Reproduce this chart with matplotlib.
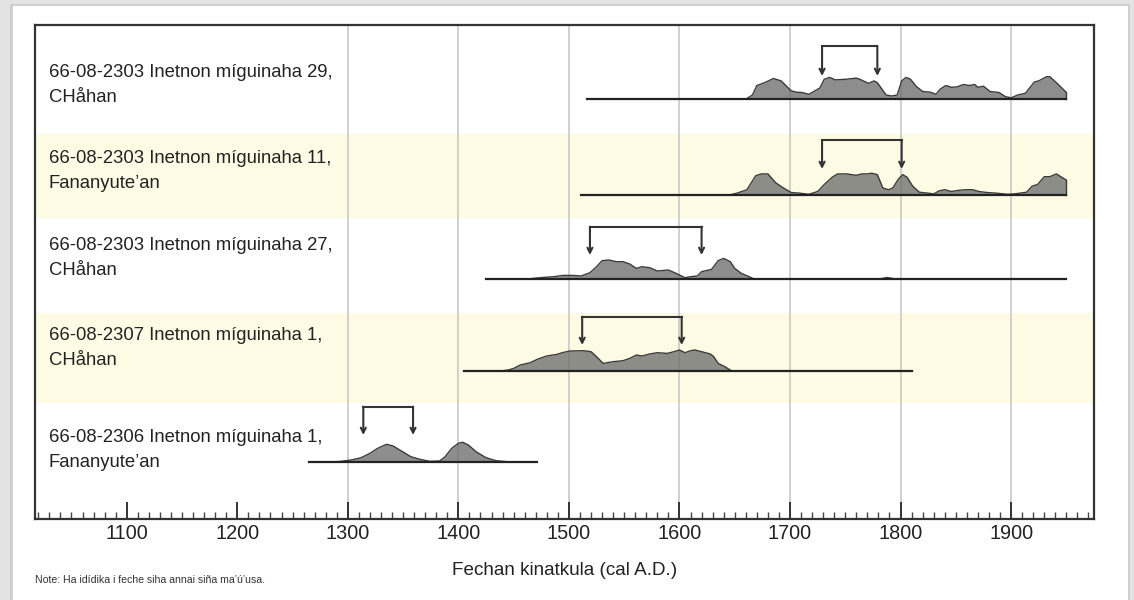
import numpy as np
import matplotlib
matplotlib.use("Agg")
import matplotlib.pyplot as plt
from matplotlib.patches import Rectangle
from matplotlib.ticker import MultipleLocator

plt.rcParams['font.family'] = ['Liberation Sans', 'DejaVu Sans']

# ---- data ----
labels = [
    "66-08-2303 Inetnon míguinaha 29,\nCHåhan",
    "66-08-2303 Inetnon míguinaha 11,\nFananyute’an",
    "66-08-2303 Inetnon míguinaha 27,\nCHåhan",
    "66-08-2307 Inetnon míguinaha 1,\nCHåhan",
    "66-08-2306 Inetnon míguinaha 1,\nFananyute’an",
]
# calibration curve span drawn for each sample (cal A.D.)
span_start = [1516, 1511, 1425, 1405, 1265]
span_end = [1950, 1950, 1950, 1810, 1471]
# bracketed date ranges
range_lo = [1729, 1729, 1519, 1512, 1314]
range_hi = [1779, 1801, 1620, 1602, 1359]

# probability distributions (year, relative height)
yrs1 = [1661, 1666, 1670, 1677, 1685, 1692, 1701, 1706, 1711, 1717, 1727, 1731, 1736,
        1741, 1751, 1760, 1763, 1771, 1776, 1779, 1787, 1792, 1797, 1801, 1805, 1809,
        1814, 1820, 1827, 1832, 1836, 1841, 1846, 1851, 1857, 1862, 1867, 1870, 1875,
        1881, 1889, 1895, 1900, 1906, 1913, 1921, 1925, 1932, 1935, 1941, 1950]
prob1 = [0, 3.5, 13, 15.8, 20, 17.6, 7.7, 6.3, 6, 4.2, 10.5, 19.3, 21.1,
         18.6, 19.3, 20.4, 19.3, 15.1, 17.6, 15.8, 3.5, 2.5, 3.5, 17.6, 21.1, 19.3,
         12.3, 7, 6.3, 4.2, 9.5, 13, 11.2, 11.6, 14, 13, 14, 11.2, 12.3,
         7, 6, 1.8, 0.7, 3.5, 5.3, 16.5, 17.6, 21.8, 21.8, 15.8, 6]
yrs2 = [1645, 1652, 1661, 1669, 1674, 1680, 1687, 1693, 1701, 1709, 1717, 1725, 1731,
        1738, 1743, 1751, 1760, 1765, 1770, 1774, 1779, 1784, 1789, 1793, 1798, 1802,
        1806, 1811, 1817, 1825, 1830, 1835, 1840, 1846, 1852, 1859, 1865, 1871, 1878,
        1887, 1897, 1903, 1914, 1919, 1924, 1930, 1935, 1941, 1946, 1950]
prob2 = [0, 1.8, 5.3, 19.3, 21.1, 21.1, 12.3, 7.7, 2.5, 1.8, 0.7, 3.5, 10.5,
         17.6, 21.1, 21.1, 19.7, 21.1, 21.1, 21.8, 20.4, 7, 5.3, 7, 15.8, 20.4,
         17.6, 8.8, 2.8, 1.8, 1.1, 4.2, 5.3, 3.5, 4.6, 5.3, 5.3, 3.5, 2.5,
         1.8, 0.7, 1.1, 2.8, 8.8, 10.5, 18.3, 18.3, 21.1, 17.6, 14.8]
yrs3 = [1465, 1474, 1486, 1495, 1504, 1511, 1519, 1525, 1530, 1536, 1543, 1549, 1555,
        1561, 1566, 1573, 1580, 1590, 1597, 1605, 1610, 1616, 1620, 1629, 1635, 1640,
        1646, 1650, 1656, 1663, 1667, 1782, 1788, 1794]
prob3 = [0, 1, 2, 3.3, 3.3, 2.7, 6, 12, 18, 18.7, 17, 17, 14.7,
         10.3, 12, 11, 7.7, 8.7, 5.3, 1, 2, 2.7, 7, 9.3, 18, 20.3,
         17, 10.3, 5.3, 2, 0, 0, 1.2, 0]
yrs4 = [1440, 1445, 1450, 1456, 1465, 1472, 1480, 1489, 1495, 1501, 1513, 1520, 1525,
        1531, 1540, 1549, 1555, 1561, 1566, 1573, 1580, 1589, 1595, 1600, 1605, 1610,
        1614, 1620, 1628, 1631, 1635, 1641, 1647]
prob4 = [0, 0.7, 2.3, 5.7, 8, 11.7, 14.7, 16.3, 18.3, 19.7, 20, 19, 14,
         7.3, 9, 10, 12.3, 15.7, 14.7, 16.7, 18, 17.3, 19, 20.7, 18, 20,
         20.7, 19, 16.7, 14, 7.3, 4, 0]
yrs5 = [1285, 1294, 1303, 1312, 1320, 1327, 1335, 1341, 1348, 1357, 1365, 1374, 1383,
        1388, 1394, 1400, 1404, 1409, 1416, 1425, 1434, 1444, 1450]
prob5 = [0, 0.7, 2, 4.3, 8.7, 13.7, 17.7, 16, 11.3, 5.3, 2.7, 0.7, 1,
         5.3, 13.7, 18.7, 19.7, 17, 10.3, 4.3, 1.3, 0.3, 0]
dist_years = [yrs1, yrs2, yrs3, yrs4, yrs5]
dist_probs = [prob1, prob2, prob3, prob4, prob5]

major_ticks = [1100, 1200, 1300, 1400, 1500, 1600, 1700, 1800, 1900]
grid_years = [1300, 1400, 1500, 1600, 1700, 1800, 1900]

xlabel = "Fechan kinatkula (cal A.D.)"
note = "Note: Ha idídika i feche siha annai siña ma’ú’usa."

# ---- layout (pixels from the top of the plot box) ----
band_edges = [0, 109, 193, 288, 378, 494]
baselines = [73.5, 170, 253.7, 345.7, 437]
label_y = [60, 146, 233, 323, 425]
bracket_top = [21, 115, 201.7, 291.7, 381.7]
bracket_tip = [51, 144, 230, 320, 410]
band_colors = ['white', '#fefbe5']
ink = '#333333'

fig = plt.figure(figsize=(11.34, 6.0), dpi=100)
fig.patch.set_facecolor('#e3e3e3')
# white card with a soft shadow
fig.patches.append(Rectangle((10 / 1134, 0), 1120 / 1134, 596 / 600,
                             transform=fig.transFigure, facecolor='#cfcfcf',
                             edgecolor='none', zorder=-2))
fig.patches.append(Rectangle((13 / 1134, 0), 1115 / 1134, 594 / 600,
                             transform=fig.transFigure, facecolor='white',
                             edgecolor='none', zorder=-1))

ax = fig.add_axes([35 / 1134, 81 / 600, 1059 / 1134, 494 / 600])
ax.set_xlim(1017, 1975)
ax.set_ylim(494, 0)

for i in range(len(labels)):
    ax.axhspan(band_edges[i], band_edges[i + 1], color=band_colors[i % 2], lw=0, zorder=0)

for g in grid_years:
    ax.axvline(g, color='#c4c4c4', lw=1.1, zorder=1)

for i in range(len(labels)):
    b = baselines[i]
    xs = np.array(dist_years[i], dtype=float)
    hs = np.array(dist_probs[i], dtype=float)
    ax.fill_between(xs, b, b - hs, color='#6a6a6a', alpha=0.76, lw=0, zorder=2)
    ax.plot(xs, b - hs, color='#3a3a3a', lw=1.0, zorder=3)
    if hs[-1] > 0:
        ax.plot([xs[-1], xs[-1]], [b, b - hs[-1]], color='#3a3a3a', lw=1.0, zorder=3)
    ax.plot([span_start[i], span_end[i]], [b, b], color='#222222', lw=1.6, zorder=4)

    top = bracket_top[i]
    ax.plot([range_lo[i], range_hi[i]], [top, top], color=ink, lw=1.5, zorder=4,
            solid_capstyle='projecting')
    for xv in (range_lo[i], range_hi[i]):
        ax.annotate('', xy=(xv, bracket_tip[i]), xytext=(xv, top),
                    arrowprops=dict(arrowstyle='->', color=ink, lw=1.5,
                                    shrinkA=0, shrinkB=0, mutation_scale=9),
                    zorder=4)

    ax.text(14 / 1059, label_y[i], labels[i], transform=ax.get_yaxis_transform(),
            fontsize=13.3, color='#222222', va='center', ha='left', linespacing=1.65)

ax.set_yticks([])
ax.xaxis.set_major_locator(plt.FixedLocator(major_ticks))
ax.xaxis.set_minor_locator(MultipleLocator(10))
ax.tick_params(axis='x', which='major', direction='in', length=12, width=1.4,
               color=ink, labelsize=14.3, labelcolor='#222222', pad=3.5)
ax.tick_params(axis='x', which='minor', direction='in', length=5, width=1,
               color='#444444')
for s in ax.spines.values():
    s.set_color(ink)
    s.set_linewidth(1.6)

ax.set_xlabel(xlabel, fontsize=13.6, color='#222222', labelpad=14)
fig.text(35 / 1134, 1 - 580 / 600, note, fontsize=7.6, color='#333333', va='center')

fig.savefig('out.png', dpi=100, facecolor=fig.get_facecolor())
